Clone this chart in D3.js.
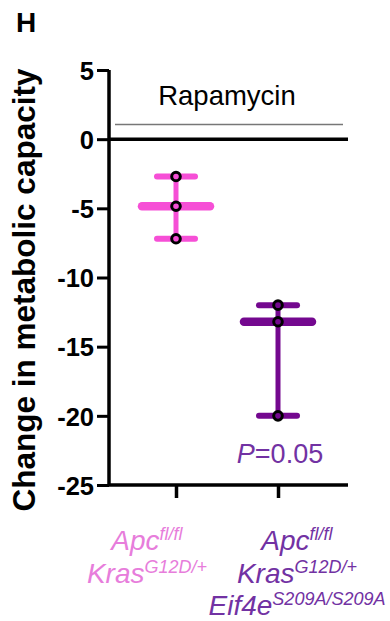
<!DOCTYPE html>
<html>
<head>
<meta charset="utf-8">
<script src="https://cdn.jsdelivr.net/npm/d3@7"></script>
<style>
  body { margin: 0; background: #fff; }
  svg { display: block; font-family: Arial, "Liberation Sans", sans-serif; }
</style>
</head>
<body>
<div id="chart"></div>
<script>
// data
const groups = ['ctrl', 'eif4e'];
const groupPoints = [[-2.7, -4.85, -7.2], [-12.0, -13.2, -20.0]];
const groupColors = ['#f64fd6', '#74088f'];
const labelColors = ['#e77ddb', '#7232a3'];
const yTicks = [5, 0, -5, -10, -15, -20, -25];

const W = 390, H = 621;
const svg = d3.select('#chart').append('svg').attr('width', W).attr('height', H);

const x = d3.scalePoint().domain(groups).range([176, 278]);
const y = d3.scaleLinear().domain([-25, 5]).range([485, 70]);
const X0 = 109, X1 = 348;

// panel letter
svg.append('text').attr('x', 16).attr('y', 32)
  .attr('font-size', 28).attr('font-weight', 'bold').text('H');

// y axis
const yAxis = svg.append('g').attr('transform', `translate(${X0},0)`)
  .call(d3.axisLeft(y).tickValues(yTicks).tickSize(12).tickPadding(3).tickFormat(d3.format('d')));
yAxis.select('.domain').attr('stroke', '#000').attr('stroke-width', 3.5).attr('d', `M0,${y(5)}V${y(-25)}`);
yAxis.selectAll('.tick line').attr('stroke', '#000').attr('stroke-width', 3);
yAxis.selectAll('.tick text').attr('font-size', 25.5).attr('font-weight', 'bold')
  .attr('font-family', 'Arial, "Liberation Sans", sans-serif').attr('fill', '#000')
  .attr('dy', '0.36em')
  .text(d => d < 0 ? '-' + Math.abs(d) : d);

// x axis (bottom)
const xAxis = svg.append('g').attr('transform', `translate(0,${y(-25)})`)
  .call(d3.axisBottom(x).tickSize(13).tickFormat(''));
xAxis.select('.domain').attr('stroke', '#000').attr('stroke-width', 3.5).attr('d', `M${X0},0H${X1}`);
xAxis.selectAll('.tick line').attr('stroke', '#000').attr('stroke-width', 3.5);

// zero line
svg.append('line').attr('x1', X0).attr('x2', X1).attr('y1', y(0)).attr('y2', y(0))
  .attr('stroke', '#000').attr('stroke-width', 3.5);

// Rapamycin bracket
svg.append('line').attr('x1', 115).attr('x2', 343).attr('y1', 124.5).attr('y2', 124.5)
  .attr('stroke', '#777').attr('stroke-width', 1.6);
svg.append('text').attr('x', 227).attr('y', 105).attr('text-anchor', 'middle')
  .attr('font-size', 27.5).text('Rapamycin');

// y label
svg.append('text').attr('transform', `translate(35,290) rotate(-90)`)
  .attr('text-anchor', 'middle').attr('font-size', 31.5).attr('font-weight', 'bold')
  .text('Change in metabolic capacity');

// min-max floating bars with median line
groups.forEach((g, i) => {
  const pts = groupPoints[i];
  const col = groupColors[i];
  const cx = x(g);
  const lo = d3.min(pts), hi = d3.max(pts), med = d3.median(pts);
  const grp = svg.append('g');
  grp.append('line').attr('x1', cx).attr('x2', cx).attr('y1', y(hi)).attr('y2', y(lo))
    .attr('stroke', col).attr('stroke-width', 5);
  [hi, lo].forEach(v => {
    grp.append('line').attr('x1', cx - 19).attr('x2', cx + 19).attr('y1', y(v)).attr('y2', y(v))
      .attr('stroke', col).attr('stroke-width', 6).attr('stroke-linecap', 'round');
  });
  grp.append('line').attr('x1', cx - 34).attr('x2', cx + 34).attr('y1', y(med)).attr('y2', y(med))
    .attr('stroke', col).attr('stroke-width', 8.5).attr('stroke-linecap', 'round');
  grp.selectAll('circle').data(pts).enter().append('circle')
    .attr('cx', cx).attr('cy', d => y(d)).attr('r', 4.3)
    .attr('fill', col).attr('stroke', '#000').attr('stroke-width', 3);
});

// P value
const pt = svg.append('text').attr('x', 280).attr('y', 463).attr('text-anchor', 'middle')
  .attr('font-size', 27).attr('fill', labelColors[1]);
pt.append('tspan').attr('font-style', 'italic').text('P');
pt.append('tspan').text('=0.05');

// x category labels (genotypes)
const xLabels = [
  [['Apc', 'fl/fl'], ['Kras', 'G12D/+']],
  [['Apc', 'fl/fl'], ['Kras', 'G12D/+'], ['Eif4e', 'S209A/S209A']]
];
const labelX = [147, 297];
const lineY = [550, 583, 615];
groups.forEach((g, i) => {
  xLabels[i].forEach((ln, j) => {
    const t = svg.append('text').attr('x', labelX[i]).attr('y', lineY[j]).attr('text-anchor', 'middle')
      .attr('font-style', 'italic').attr('font-size', 28).attr('fill', labelColors[i]);
    t.append('tspan').text(ln[0]);
    t.append('tspan').attr('font-size', 18).attr('dy', -10).text(ln[1]);
  });
});
</script>
</body>
</html>
